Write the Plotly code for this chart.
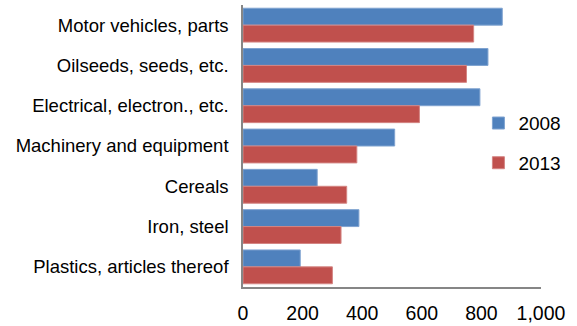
import plotly.graph_objects as go

categories = [
    "Motor vehicles, parts",
    "Oilseeds, seeds, etc.",
    "Electrical, electron., etc.",
    "Machinery and equipment",
    "Cereals",
    "Iron, steel",
    "Plastics, articles thereof",
]
values_2008 = [870, 822, 795, 509, 249, 389, 192]
values_2013 = [774, 750, 592, 382, 348, 329, 300]
x_ticks = [0, 200, 400, 600, 800, 1000]
x_tick_labels = ["0", "200", "400", "600", "800", "1,000"]

FONT = "Liberation Sans, Arial, sans-serif"

fig = go.Figure()
fig.add_trace(go.Bar(
    name="2008", y=categories, x=values_2008, orientation="h",
    marker=dict(color="#4F81BD", line=dict(color="#7FA3D0", width=1)),
    legendgroup="a",
))
fig.add_trace(go.Bar(
    name="2013", y=categories, x=values_2013, orientation="h",
    marker=dict(color="#C0504D", line=dict(color="#D48583", width=1)),
    legendgroup="b",
))

fig.update_layout(
    width=577, height=326,
    margin=dict(l=243, r=36, t=5, b=39),
    paper_bgcolor="white", plot_bgcolor="white",
    barmode="group", bargap=0.16, bargroupgap=0,
    font=dict(family=FONT, color="black"),
    legend=dict(
        x=0.79, y=0.51, xanchor="left", yanchor="middle",
        font=dict(size=19, family=FONT),
        traceorder="grouped", tracegroupgap=12,
        bgcolor="rgba(0,0,0,0)", itemwidth=30,
    ),
    xaxis=dict(
        range=[0, 1000], tickvals=x_ticks, ticktext=x_tick_labels,
        showgrid=False, zeroline=False, automargin=False,
        showline=True, linecolor="#868686", linewidth=1.5,
        ticks="", tickfont=dict(size=19.5, family=FONT),
        ticklabelstandoff=8,
    ),
    yaxis=dict(
        autorange="reversed", showgrid=False, automargin=False,
        showline=True, linecolor="#868686", linewidth=1.5,
        ticks="", tickfont=dict(size=18.5, family=FONT),
        ticklabelstandoff=9,
    ),
)

fig.write_html("out.html")
